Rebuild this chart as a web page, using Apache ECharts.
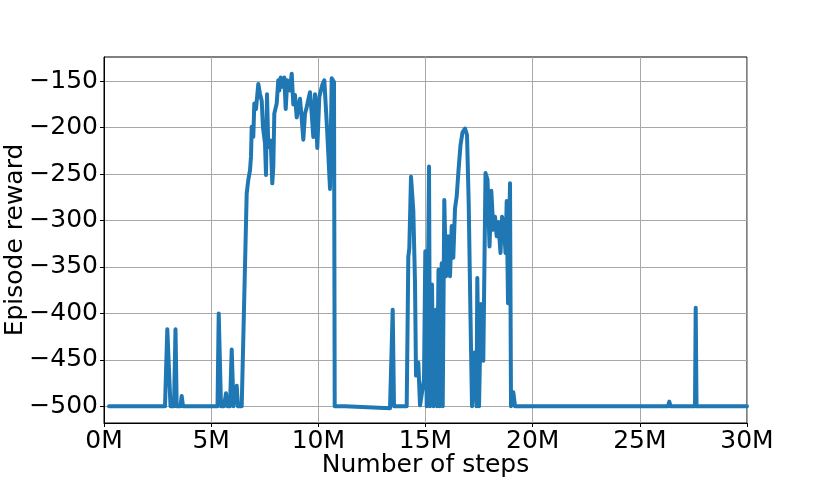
<!DOCTYPE html>
<html>
<head>
<meta charset="utf-8">
<script src="https://cdn.jsdelivr.net/npm/echarts/dist/echarts.min.js"></script>
<style>
html,body{margin:0;padding:0;background:#fff;}
#chart{width:831px;height:477px;}
</style>
</head>
<body>
<div id="chart"></div>
<script>
// x values in millions of steps
var stepsM = [0.233,2.846,2.953,3.033,3.103,3.266,3.336,3.392,3.569,3.625,3.686,
5.296,5.352,5.459,5.599,5.692,5.762,5.879,5.958,6.042,6.135,6.191,6.252,6.425,
6.658,6.733,6.812,6.859,6.891,6.966,7.013,7.092,7.199,7.279,7.358,7.418,7.512,7.558,7.605,7.666,7.778,7.852,7.899,7.946,8.058,8.132,8.179,8.244,8.319,8.412,8.478,8.552,8.678,8.758,8.832,8.911,8.991,9.066,9.145,9.224,9.299,9.378,9.457,9.532,9.611,9.691,9.765,9.845,9.952,10.045,10.186,10.279,10.405,10.545,10.624,10.731,10.764,
11.244,13.344,13.437,13.470,13.531,
14.123,14.198,14.245,14.324,14.431,14.511,14.557,14.665,14.744,14.837,14.930,14.991,15.057,15.164,15.210,15.304,15.373,15.490,15.537,15.607,15.663,15.756,15.803,15.877,15.957,16.050,16.143,16.223,16.297,16.377,16.456,16.540,16.633,16.727,16.843,16.937,17.016,17.100,17.170,17.287,17.380,17.417,17.497,17.590,17.697,17.800,17.893,17.987,18.071,18.164,18.243,18.322,18.397,18.500,18.570,18.663,18.733,18.789,18.850,18.943,18.990,19.097,19.176,
26.315,26.376,26.432,27.574,27.607,27.645,30.0];

var rewards = [-500,-500,-417,-415,-500,-500,-417,-500,-500,-489,-500,
-500,-400,-500,-500,-486,-500,-500,-439,-500,-500,-478,-500,-500,
-271,-256,-246,-231,-199,-210,-174,-180,-153,-164,-171,-200,-217,-251,-164,-221,-214,-260,-242,-185,-174,-149,-160,-146,-156,-146,-180,-149,-160,-142,-175,-165,-189,-178,-169,-190,-213,-185,-178,-170,-162,-185,-210,-164,-222,-167,-154,-149,-200,-266,-147,-151,-500,
-500,-502,-500,-396,-500,
-500,-339,-330,-253,-289,-367,-467,-453,-499,-500,-471,-333,-500,-242,-500,-369,-500,-396,-500,-353,-500,-346,-500,-278,-360,-317,-360,-306,-340,-287,-274,-246,-219,-205,-201,-208,-282,-405,-500,-442,-500,-362,-500,-390,-451,-249,-256,-328,-268,-310,-296,-317,-302,-335,-296,-306,-335,-279,-389,-260,-500,-485,-500,
-500,-495,-500,-500,-394,-500,-500];

var yTicks = [-500,-450,-400,-350,-300,-250,-200,-150];
var xTicks = [0,5,10,15,20,25,30];

var data = stepsM.map(function(x,i){ return [x, rewards[i]]; });

var chart = echarts.init(document.getElementById('chart'), null, {renderer:'canvas'});
var font = 'DejaVu Sans';
chart.setOption({
  animation:false,
  backgroundColor:'#ffffff',
  grid:{left:104,right:84,top:57,bottom:54,show:true,borderColor:'#000',borderWidth:1,backgroundColor:'transparent',
        containLabel:false,outerBoundsMode:'none'},
  xAxis:{
    type:'value',min:0,max:30,interval:5,
    name:'Number of steps',nameLocation:'middle',nameGap:30,nameMoveOverlap:false,
    nameTextStyle:{fontFamily:font,fontSize:25,color:'#000',verticalAlign:'top'},
    axisLine:{show:true,onZero:false,lineStyle:{color:'#000',width:1}},
    axisTick:{show:true,length:4,lineStyle:{color:'#000'}},
    axisLabel:{fontFamily:font,fontSize:25,color:'#000',margin:6,
      customValues:xTicks,
      formatter:function(v){return v+'M';}},
    splitLine:{show:true,lineStyle:{color:'#a8a8a8',width:1}}
  },
  yAxis:{
    type:'value',min:-518,max:-124,
    name:'Episode reward',nameLocation:'middle',nameGap:76,nameMoveOverlap:false,
    nameTextStyle:{fontFamily:font,fontSize:25,color:'#000'},
    axisLine:{show:true,onZero:false,lineStyle:{color:'#000',width:1}},
    axisTick:{show:true,length:4,customValues:yTicks,lineStyle:{color:'#000'}},
    axisLabel:{fontFamily:font,fontSize:25,color:'#000',margin:6,
      customValues:yTicks,
      formatter:function(v){return String(v).replace('-','\u2212');}},
    splitLine:{show:true,lineStyle:{color:'#a8a8a8',width:1}}
  },
  series:[{
    type:'line',data:data,showSymbol:false,symbol:'none',
    lineStyle:{color:'#1f77b4',width:4,cap:'round',join:'round'},
    z:3
  }]
});
</script>
</body>
</html>
